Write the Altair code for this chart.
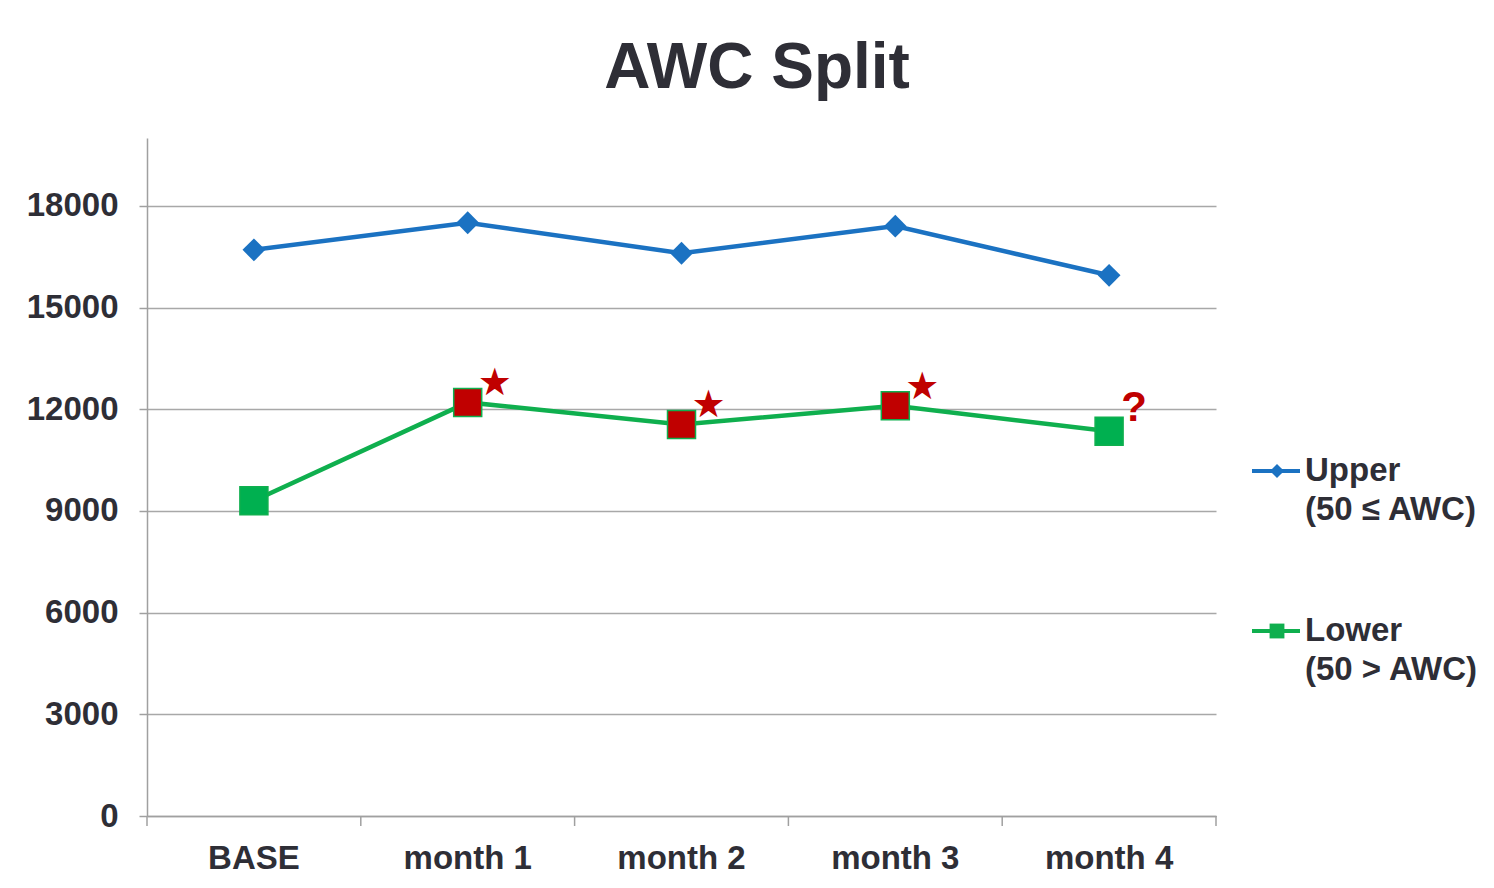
import altair as alt
import pandas as pd

categories = ["BASE", "month 1", "month 2", "month 3", "month 4"]
upper = [16700, 17500, 16600, 17400, 15950]
lower = [9300, 12200, 11550, 12100, 11350]
lower_fill = ["#00B050", "#C00000", "#C00000", "#C00000", "#00B050"]
notes = ["", "★", "★", "★", "?"]
y_ticks = [0, 3000, 6000, 9000, 12000, 15000, 18000]

BLUE = "#1B72C2"
GREEN = "#0FAF4E"
RED = "#C00000"
TXT = "#2E2E36"
FONT = "Liberation Sans"
W, H = 1069, 678

df_upper = pd.DataFrame({"cat": categories, "value": upper})
df_lower = pd.DataFrame({"cat": categories, "value": lower, "fill": lower_fill, "note": notes})
df_cat = pd.DataFrame({"cat": categories})
one = pd.DataFrame({"k": [0]})

xscale = alt.Scale(type="band", domain=categories, paddingInner=0, paddingOuter=0)
yscale = alt.Scale(domain=[0, 20000], nice=False)

x_enc = alt.X("cat:N", scale=xscale, sort=categories,
              axis=alt.Axis(title=None, ticks=False, labelAngle=0, labelFont=FONT,
                            labelFontSize=33, labelFontWeight="bold", labelColor=TXT,
                            labelPadding=26, domainColor="#A0A0A0", domainWidth=1.5))
y_enc = alt.Y("value:Q", scale=yscale,
              axis=alt.Axis(title=None, values=y_ticks, format="d", grid=True, gridColor="#A8A8A8",
                            gridWidth=1.5, domainColor="#A0A0A0", domainWidth=1.5,
                            tickColor="#A0A0A0", tickWidth=1.5, tickSize=8,
                            labelFont=FONT, labelFontSize=33, labelFontWeight="bold",
                            labelColor=TXT, labelPadding=21))

upper_line = alt.Chart(df_upper).mark_line(color=BLUE, strokeWidth=4.5).encode(x=x_enc, y=y_enc)
upper_pts = alt.Chart(df_upper).mark_point(shape="diamond", filled=True, color=BLUE, size=520,
                                          opacity=1).encode(x="cat:N", y="value:Q")
lower_line = alt.Chart(df_lower).mark_line(color=GREEN, strokeWidth=4.5).encode(x="cat:N", y="value:Q")
lower_pts = alt.Chart(df_lower).mark_point(shape="square", filled=True, size=784, opacity=1,
                                          stroke=GREEN, strokeWidth=1.5).encode(
    x="cat:N", y="value:Q", fill=alt.Fill("fill:N", scale=None))
stars = alt.Chart(df_lower).transform_filter(alt.datum.note == "★").mark_text(
    color=RED, fontSize=38, dx=27, dy=-18, font="DejaVu Sans").encode(
    x="cat:N", y="value:Q", text="note:N")
qmark = alt.Chart(df_lower).transform_filter(alt.datum.note == "?").mark_text(
    color=RED, fontSize=42, fontWeight="bold", dx=25, dy=-23, font=FONT).encode(
    x="cat:N", y="value:Q", text="note:N")

ticks = alt.Chart(df_cat).mark_rule(color="#A0A0A0", strokeWidth=1.5).encode(
    x=alt.X("cat:N", bandPosition=0), y=alt.value(H), y2=alt.value(H + 10))
end_tick = alt.Chart(one).mark_rule(color="#A0A0A0", strokeWidth=1.5).encode(
    x=alt.value(W), y=alt.value(H), y2=alt.value(H + 10))

title = alt.Chart(one).mark_text(text="AWC Split", font=FONT, fontSize=64, fontWeight="bold",
                                 color=TXT, align="center", baseline="alphabetic").encode(
    x=alt.value(610), y=alt.value(-50))

def legend_entry(color, shape, size, label, ypix):
    line = alt.Chart(one).mark_rule(color=color, strokeWidth=4).encode(
        x=alt.value(1105), x2=alt.value(1153), y=alt.value(ypix))
    sym = alt.Chart(one).mark_point(shape=shape, filled=True, color=color, size=size,
                                    opacity=1).encode(x=alt.value(1130), y=alt.value(ypix))
    txt = alt.Chart(one).mark_text(text=label, lineBreak="\n", lineHeight=39, font=FONT,
                                   fontSize=33, fontWeight="bold", color=TXT, align="left",
                                   baseline="middle").encode(x=alt.value(1158), y=alt.value(ypix))
    return [line, sym, txt]

leg = legend_entry(BLUE, "diamond", 200, "Upper\n(50 ≤ AWC)", 333) + \
      legend_entry(GREEN, "square", 220, "Lower\n(50 > AWC)", 493)

chart = alt.layer(upper_line, upper_pts, lower_line, lower_pts, stars, qmark, ticks, end_tick,
                  title, *leg).properties(
    width=W, height=H,
    autosize=alt.AutoSizeParams(type="none"),
    padding={"left": 139, "top": 130, "right": 270, "bottom": 60},
    background="white",
).configure_view(stroke=None)

chart.save("out.html", embed_options={"renderer": "svg", "actions": False})
